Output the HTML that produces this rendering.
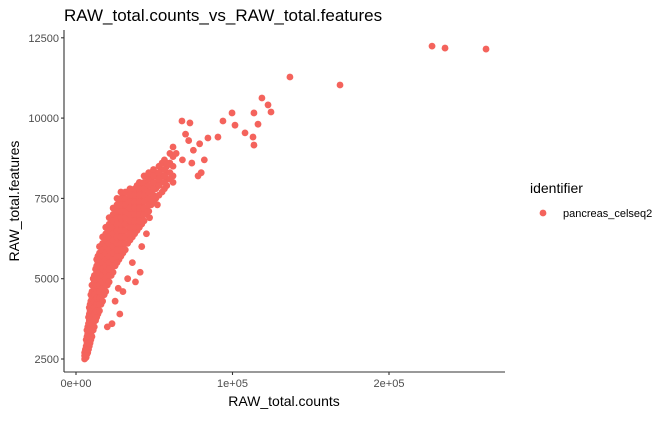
<!DOCTYPE html>
<html><head><meta charset="utf-8"><style>
body{margin:0;background:#fff;font-family:"Liberation Sans",Arial,sans-serif}
svg text{font-family:"Liberation Sans",Arial,sans-serif}
</style></head><body>
<svg id="chart" width="668" height="416">
<text x="64" y="21" font-size="17" fill="#000">RAW_total.counts_vs_RAW_total.features</text>
<g id="marks"></g>
<g id="axes"></g>
<text x="284" y="406" font-size="14" text-anchor="middle" fill="#000">RAW_total.counts</text>
<text transform="translate(19,201) rotate(-90)" font-size="14" text-anchor="middle" fill="#000">RAW_total.features</text>
<g>
<text x="530" y="193" font-size="14" fill="#000">identifier</text>
<circle cx="543" cy="213" r="3.4" fill="#F4635C"></circle>
<text x="563" y="217" font-size="11" fill="#000">pancreas_celseq2</text>
</g>
</svg>
<script>
const xTicks=[0,100000,200000];
const xTickLabels=["0e+00","1e+05","2e+05"];
const yTicks=[2500,5000,7500,10000,12500];
const yTickLabels=["2500","5000","7500","10000","12500"];
const colCounts=[5500,6500,7500,8500,9500,11000,12500,14000,16000,18000,20000,22500,25000,27500,30000,33000,36000,39000,42000,45000,48000,51000,55000,58000,62000];
const colFeatures=[
[2500,2600,2700],
[2550,2700,2900,3100],
[2700,2900,3100,3300,3500],
[2900,3100,3300,3500,3700,3900,4100],
[3100,3300,3500,3700,3900,4100,4300,4500],
[3400,3600,3800,4000,4200,4400,4600,4800,5000],
[3700,3900,4100,4300,4500,4700,4900,5100,5300],
[3900,4100,4300,4500,4700,4900,5100,5300,5500,5700],
[4200,4400,4600,4800,5000,5200,5400,5600,5800,6000],
[4500,4700,4900,5100,5300,5500,5700,5900,6100,6300],
[4800,5000,5200,5400,5600,5800,6000,6200,6400,6600],
[5100,5300,5500,5700,5900,6100,6300,6500,6700,6900],
[5400,5600,5800,6000,6200,6400,6600,6800,7000,7200],
[5600,5800,6000,6200,6400,6600,6800,7000,7200,7400],
[5800,6000,6200,6400,6600,6800,7000,7200,7400,7600],
[6100,6300,6500,6700,6900,7100,7300,7500,7700],
[6300,6500,6700,6900,7100,7300,7500,7700],
[6500,6700,6900,7100,7300,7500,7700,7900],
[6700,6900,7100,7300,7500,7700,7900],
[7000,7200,7400,7600,7800,8000,8200],
[7300,7500,7700,7900,8100,8300],
[7500,7800,8000,8200,8300],
[7700,8000,8200,8400,8600],
[7900,8100,8300,8500],
[8000,8200,8500,8800]];
const midCounts=[6000,7000,8000,9000,10200,11700,13200,15000,17000,19000,21200,23700,26200,28700,31500,34500,37500,40500,43500,46500,49500,53000,56500,60000];
const midFeatures=[
[2600,2800],
[2650,2800,3000,3200,3400],
[2800,3000,3200,3400,3600,3800],
[3000,3200,3400,3600,3800,4000,4200],
[3200,3400,3600,3800,4000,4200,4400,4600,4800],
[3500,3700,3900,4100,4300,4500,4700,4900,5100],
[3800,4000,4200,4400,4600,4800,5000,5200,5400,5600],
[4000,4200,4400,4600,4800,5000,5200,5400,5600,5800,6000],
[4300,4500,4700,4900,5100,5300,5500,5700,5900,6100,6300],
[4600,4800,5000,5200,5400,5600,5800,6000,6200,6400,6600],
[4900,5100,5300,5500,5700,5900,6100,6300,6500,6700,6900],
[5200,5400,5600,5800,6000,6200,6400,6600,6800,7000,7200],
[5500,5700,5900,6100,6300,6500,6700,6900,7100,7300,7500],
[5700,5900,6100,6300,6500,6700,6900,7100,7300,7500,7700],
[5900,6100,6300,6500,6700,6900,7100,7300,7500,7700],
[6200,6400,6600,6800,7000,7200,7400,7600,7800],
[6400,6600,6800,7000,7200,7400,7600,7800],
[6600,6800,7000,7200,7400,7600,7800,8000],
[6800,7000,7200,7400,7600,7800,8000,8200],
[7100,7300,7500,7700,7900,8100,8300],
[7400,7600,7800,8000,8200,8400],
[7600,7900,8100,8300,8500],
[7800,8000,8200,8400,8700],
[8100,8300,8600,8900]];
const extraCounts=[20000,23000,25000,27000,28000,30000,33000,38000,41000,36000,42000,45000,47000,52000,64000,67700,72800,70000,68000,74000,80000,78000,82000,79000,72000,75000,62000,58000,84300,90700,93900,99700,101600,108000,113100,113700,113700,116300,118800,122700,124600,136700,168700,227500,235800,262000];
const extraFeatures=[3500,3600,4300,4700,3900,4600,5000,4900,5200,5500,6000,6400,6900,7300,8900,9910,9850,9500,8700,8600,8300,8200,8700,9200,9300,9000,9100,8600,9380,9410,9910,10160,9780,9540,9410,9160,10160,9810,10625,10410,10190,11280,11030,12240,12180,12150];
const X0=64,X1=505,Y0=372,Y1=30;
const xs=v=>76+v*156.5/100000;
const ys=v=>359-(v-2500)*80.3/2500;
const NS="http://www.w3.org/2000/svg";
const marks=document.getElementById('marks');
function pt(c,f){
  const el=document.createElementNS(NS,'circle');
  el.setAttribute('cx',xs(c));el.setAttribute('cy',ys(f));el.setAttribute('r',3.4);el.setAttribute('fill','#F4635C');
  
  
  marks.appendChild(el);
}
colCounts.forEach((c,i)=>colFeatures[i].forEach(f=>pt(c,f)));
midCounts.forEach((c,i)=>midFeatures[i].forEach(f=>pt(c,f)));
extraCounts.forEach((c,i)=>pt(c,extraFeatures[i]));
const axes=document.getElementById('axes');
function line(x1,y1,x2,y2,name){
  const l=document.createElementNS(NS,'line');
  l.setAttribute('x1',x1);l.setAttribute('y1',y1);l.setAttribute('x2',x2);l.setAttribute('y2',y2);
  l.setAttribute('stroke','#333');l.setAttribute('stroke-width','1.1');
  
  
  axes.appendChild(l);
}
function txt(x,y,s,anchor,name){
  const t=document.createElementNS(NS,'text');
  t.setAttribute('x',x);t.setAttribute('y',y);t.setAttribute('font-size','11');t.setAttribute('fill','#4d4d4d');t.setAttribute('text-anchor',anchor);
  t.textContent=s;
  
  
  axes.appendChild(t);
}
line(X0,Y1,X0,Y0,'y-axis-line');
line(X0,Y0,X1,Y0,'x-axis-line');
xTicks.forEach((v,i)=>{line(xs(v),Y0,xs(v),Y0+3,'x-tick');txt(xs(v),Y0+15,xTickLabels[i],'middle','x-tick-label');});
yTicks.forEach((v,i)=>{line(X0-3,ys(v),X0,ys(v),'y-tick');txt(X0-5,ys(v)+4,yTickLabels[i],'end','y-tick-label');});
</script>
</body></html>
